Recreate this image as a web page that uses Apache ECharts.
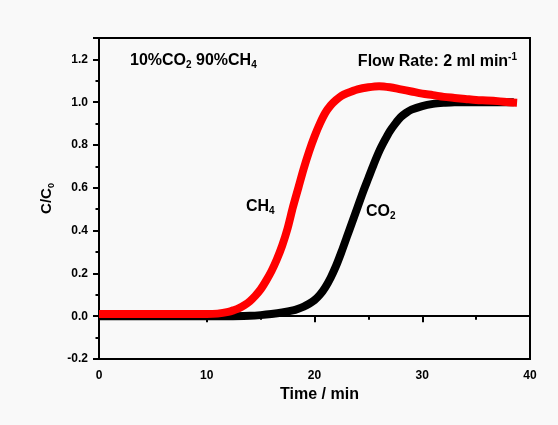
<!DOCTYPE html>
<html>
<head>
<meta charset="utf-8">
<script src="https://cdn.jsdelivr.net/npm/echarts@6/dist/echarts.min.js"></script>
<style>html,body{margin:0;padding:0;background:#f9f9f9;}#c{width:558px;height:425px;}</style>
</head>
<body>
<div id="c"></div>
<script>
// CH4 breakthrough (red)
const ch4Time = [0, 2, 4, 6, 8, 10, 11, 12, 12.5, 13, 13.5, 14, 14.5, 15, 15.5, 16, 16.5, 17, 17.5, 18, 18.5, 19, 19.5, 20, 20.5, 21, 21.5, 22, 22.5, 23, 24, 25, 26, 27, 28, 29, 30, 31, 32, 33, 34, 35, 36, 37, 38, 38.8];
const ch4Value = [0.01, 0.01, 0.01, 0.01, 0.01, 0.01, 0.012, 0.02, 0.028, 0.038, 0.052, 0.07, 0.095, 0.125, 0.165, 0.21, 0.265, 0.33, 0.41, 0.51, 0.60, 0.69, 0.77, 0.84, 0.90, 0.95, 0.985, 1.01, 1.03, 1.042, 1.06, 1.07, 1.075, 1.07, 1.06, 1.05, 1.04, 1.033, 1.025, 1.02, 1.015, 1.01, 1.008, 1.005, 1.0, 0.997];
// CO2 breakthrough (black)
const co2Time = [0, 2, 4, 6, 8, 10, 12, 14, 15, 16, 17, 18, 18.5, 19, 19.5, 20, 20.5, 21, 21.5, 22, 22.5, 23, 23.5, 24, 24.5, 25, 25.5, 26, 26.5, 27, 27.5, 28, 28.5, 29, 30, 31, 32, 33, 34, 36, 38.5];
const co2Value = [0.0, 0.0, 0.0, 0.0, 0.0, 0.0, 0.0, 0.002, 0.005, 0.01, 0.017, 0.027, 0.035, 0.045, 0.058, 0.075, 0.10, 0.135, 0.18, 0.235, 0.30, 0.37, 0.44, 0.51, 0.58, 0.645, 0.71, 0.77, 0.82, 0.865, 0.90, 0.93, 0.95, 0.965, 0.982, 0.992, 0.997, 1.0, 1.0, 1.0, 1.0];

const xTicks = { min: 0, max: 40, interval: 10 };
const yTicks = { min: -0.2, max: 1.3, interval: 0.2 };

const pair = (t, v) => t.map((x, i) => [x, v[i]]);
const FONT = 'Liberation Sans, Arial, sans-serif';

const chart = echarts.init(document.getElementById('c'));
const axisCommon = {
  axisLine: { show: true, lineStyle: { color: '#000', width: 2 } },
  axisTick: { show: true, inside: false, length: 6, lineStyle: { color: '#000', width: 2 } },
  minorTick: { show: true, splitNumber: 2, length: 3.5, lineStyle: { color: '#000', width: 2 } },
  splitLine: { show: false },
  axisLabel: { color: '#000', fontFamily: FONT, fontWeight: 'bold', fontSize: 12, margin: 11 }
};
const richB = { fill: '#000', color: '#000', fontFamily: FONT, fontWeight: 'bold', fontSize: 16, lineHeight: 19 };
const richS = { fill: '#000', color: '#000', fontFamily: FONT, fontWeight: 'bold', fontSize: 10, lineHeight: 19, verticalAlign: 'bottom', padding: [6, 0, 0, 0] };
const richP = { fill: '#000', color: '#000', fontFamily: FONT, fontWeight: 'bold', fontSize: 10, lineHeight: 19, verticalAlign: 'top', padding: [0, 0, 6, 0] };
chart.setOption({
  backgroundColor: '#f9f9f9',
  animation: false,
  grid: { left: 99, right: 28, top: 38, bottom: 66, show: true, borderColor: '#000', borderWidth: 2, backgroundColor: 'transparent' },
  xAxis: Object.assign({}, axisCommon, {
    type: 'value', min: xTicks.min, max: xTicks.max, interval: xTicks.interval,
    name: 'Time / min', nameLocation: 'middle', nameGap: 26,
    nameTextStyle: { color: '#000', fontFamily: FONT, fontWeight: 'bold', fontSize: 16, padding: [0, 0, 0, 10] }
  }),
  yAxis: Object.assign({}, axisCommon, {
    type: 'value', min: yTicks.min, max: yTicks.max, interval: yTicks.interval,
    axisLabel: Object.assign({}, axisCommon.axisLabel, {
      showMaxLabel: false,
      formatter: v => (Math.abs(v - 1.3) < 1e-6 ? '' : v.toFixed(1))
    }),
    name: '{b|C/C}{s|0}', nameLocation: 'middle', nameGap: 43, nameRotate: 90,
    nameTextStyle: { rich: { b: Object.assign({}, richB, { fontSize: 15 }), s: Object.assign({}, richS, { fontSize: 9 }) } }
  }),
  series: [
    { type: 'line', name: 'CO2', data: pair(co2Time, co2Value), smooth: 0.3, symbol: 'none',
      lineStyle: { color: '#000', width: 8, join: 'round', cap: 'butt' }, z: 2 },
    { type: 'line', name: 'CH4', data: pair(ch4Time, ch4Value), smooth: 0.3, symbol: 'none',
      lineStyle: { color: '#ff0000', width: 8, join: 'round', cap: 'butt' }, z: 3 }
  ],
  graphic: [
    { type: 'text', left: 130, top: 53, z: 10, style: { text: '{b|10%CO}{s|2}{b| 90%CH}{s|4}', rich: { b: richB, s: richS } } },
    { type: 'text', right: 41, top: 52, z: 10, style: { text: '{b|Flow Rate: 2 ml min}{p|-1}', rich: { b: richB, p: richP } } },
    { type: 'text', left: 246, top: 199, z: 10, style: { text: '{b|CH}{s|4}', rich: { b: richB, s: richS } } },
    { type: 'text', left: 366, top: 204, z: 10, style: { text: '{b|CO}{s|2}', rich: { b: richB, s: richS } } }
  ]
});
</script>
</body>
</html>
